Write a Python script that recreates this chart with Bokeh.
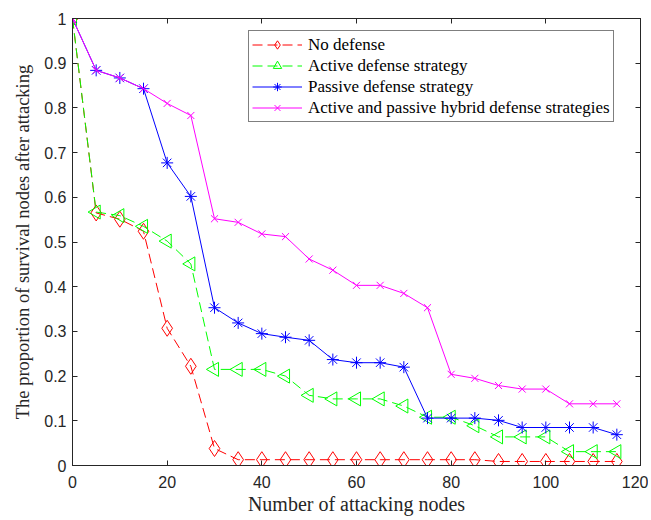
import numpy as np
from bokeh.plotting import figure
from bokeh.models import (LinearAxis, Range1d, Legend, LegendItem, FixedTicker,
                          CustomLabelingPolicy)
from bokeh.embed import file_html
from bokeh.resources import INLINE

attack_nodes = [0, 5, 10, 15, 20, 25, 30, 35, 40, 45, 50, 55, 60, 65, 70, 75, 80, 85, 90, 95, 100, 105, 110, 115]

no_defense = [1.0, 0.565, 0.551, 0.524, 0.307, 0.222, 0.038, 0.013, 0.013, 0.013, 0.013, 0.013,
              0.013, 0.013, 0.013, 0.013, 0.013, 0.013, 0.009, 0.009, 0.009, 0.009, 0.009, 0.009]
active_defense = [1.0, 0.567, 0.559, 0.535, 0.502, 0.451, 0.215, 0.215, 0.215, 0.200, 0.157, 0.149,
                  0.149, 0.149, 0.133, 0.108, 0.108, 0.089, 0.064, 0.064, 0.064, 0.031, 0.031, 0.031]
passive_defense = [1.0, 0.884, 0.867, 0.843, 0.677, 0.602, 0.353, 0.319, 0.295, 0.287, 0.280, 0.237,
                   0.230, 0.230, 0.220, 0.106, 0.106, 0.106, 0.101, 0.085, 0.085, 0.085, 0.085, 0.069]
hybrid_defense = [1.0, 0.884, 0.867, 0.843, 0.810, 0.783, 0.552, 0.544, 0.518, 0.512, 0.462, 0.437,
                  0.403, 0.403, 0.385, 0.353, 0.204, 0.195, 0.179, 0.171, 0.171, 0.138, 0.138, 0.138]

series_names = ["No defense", "Active defense strategy", "Passive defense strategy",
                "Active and passive hybrid defense strategies"]

x_ticks = [0, 20, 40, 60, 80, 100, 120]
y_ticks = [0, 0.1, 0.2, 0.3, 0.4, 0.5, 0.6, 0.7, 0.8, 0.9, 1.0]
y_tick_labels = ["0", "0.1", "0.2", "0.3", "0.4", "0.5", "0.6", "0.7", "0.8", "0.9", "1"]

AX = "#262626"
SERIF = "Liberation Serif"
SANS = "Liberation Sans"

p = figure(width=648, height=517, output_backend="svg", toolbar_location=None,
           x_range=Range1d(0, 120), y_range=Range1d(0, 1),
           min_border_left=72, min_border_right=8, min_border_top=18, min_border_bottom=52,
           x_axis_label="Number of attacking nodes",
           y_axis_label="The proportion of survival nodes after attacking")
p.xgrid.visible = False
p.ygrid.visible = False
p.outline_line_color = AX
p.outline_line_width = 1
p.background_fill_color = "white"
p.border_fill_color = "white"

for ax in (p.xaxis[0], p.yaxis[0]):
    ax.axis_line_color = AX
    ax.major_tick_line_color = AX
    ax.major_tick_in = 5
    ax.major_tick_out = 0
    ax.minor_tick_line_color = None
    ax.major_label_text_font = SANS
    ax.major_label_text_font_size = "16px"
    ax.major_label_text_color = AX
    ax.axis_label_text_font = SERIF
    ax.axis_label_text_font_style = "normal"
    ax.axis_label_text_color = AX

p.xaxis[0].axis_label_text_font_size = "20px"
p.yaxis[0].axis_label_text_font_size = "18.5px"
p.xaxis[0].ticker = FixedTicker(ticks=x_ticks)
p.yaxis[0].ticker = FixedTicker(ticks=y_ticks)
p.yaxis[0].major_label_overrides = {t: l for t, l in zip(y_ticks, y_tick_labels)}
p.xaxis[0].major_label_standoff = 10
p.yaxis[0].major_label_standoff = 6
p.xaxis[0].axis_label_standoff = 2
p.yaxis[0].axis_label_standoff = 8

# mirrored tick marks on top and right (no labels)
top = LinearAxis(ticker=FixedTicker(ticks=x_ticks),
                 major_label_policy=CustomLabelingPolicy(code="return []"),
                 major_label_text_font_size="1px",
                 major_label_standoff=0, major_tick_in=5, major_tick_out=0,
                 minor_tick_line_color=None, axis_line_color=AX, major_tick_line_color=AX)
right = LinearAxis(ticker=FixedTicker(ticks=y_ticks),
                   major_label_policy=CustomLabelingPolicy(code="return []"),
                   major_label_text_font_size="1px",
                   major_label_standoff=0, major_tick_in=5, major_tick_out=0,
                   minor_tick_line_color=None, axis_line_color=AX, major_tick_line_color=AX)
p.add_layout(top, "above")
p.add_layout(right, "right")

RED, GREEN, BLUE, MAG = "#FF0000", "#00FF00", "#0000FF", "#FF00FF"

r1l = p.line(attack_nodes, no_defense, line_color=RED, line_width=1, line_dash="10 5")
r1m = p.scatter(attack_nodes, no_defense, marker="diamond", size=16, line_color=RED,
                fill_color=None, line_width=1)
r2l = p.line(attack_nodes, active_defense, line_color=GREEN, line_width=1, line_dash="10 5")
r2m = p.scatter(attack_nodes, active_defense, marker="triangle", angle=np.pi / 2, size=14,
                line_color=GREEN, fill_color=None, line_width=1)
r3l = p.line(attack_nodes, passive_defense, line_color=BLUE, line_width=1)
r3m = p.scatter(attack_nodes, passive_defense, marker="asterisk", size=12, line_color=BLUE,
                line_width=1)
r4l = p.line(attack_nodes, hybrid_defense, line_color=MAG, line_width=1)
r4m = p.scatter(attack_nodes, hybrid_defense, marker="x", size=10, line_color=MAG, line_width=1)

legend = Legend(items=[
    LegendItem(label=series_names[0], renderers=[r1l, r1m]),
    LegendItem(label=series_names[1], renderers=[r2l, r2m]),
    LegendItem(label=series_names[2], renderers=[r3l, r3m]),
    LegendItem(label=series_names[3], renderers=[r4l, r4m]),
], location=(176, 343))
legend.label_text_font = SERIF
legend.label_text_font_size = "17px"
legend.label_text_color = "black"
legend.glyph_width = 50
legend.glyph_height = 21
legend.label_height = 21
legend.spacing = 0
legend.padding = 3
legend.margin = 0
legend.label_standoff = 6
legend.border_line_color = "black"
legend.border_line_width = 1
legend.background_fill_alpha = 1
p.add_layout(legend, "center")

open("out.html", "w").write(file_html(p, INLINE))
